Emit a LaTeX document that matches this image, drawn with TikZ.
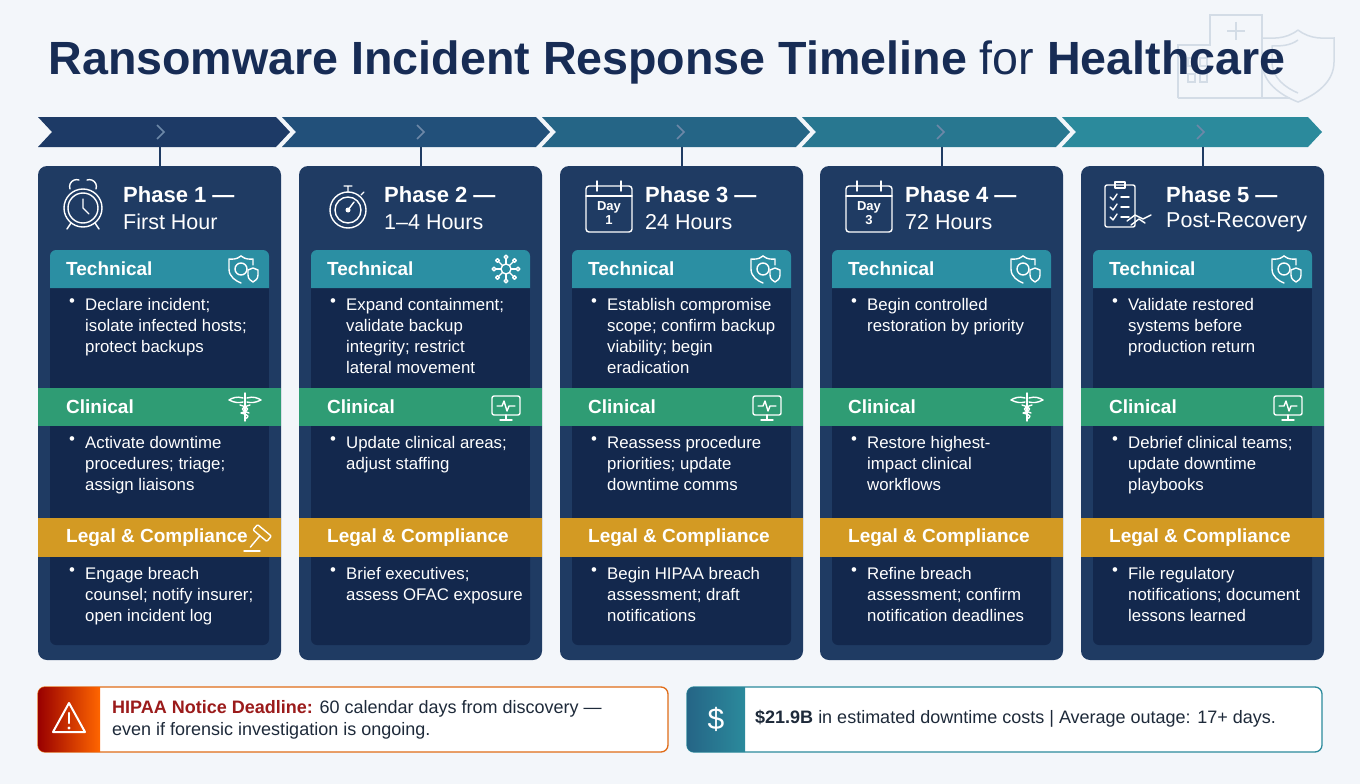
\documentclass[tikz,border=0pt]{standalone}
\usepackage{fontspec}
\setmainfont{Liberation Sans}
\usetikzlibrary{positioning}
\definecolor{pagebg}{HTML}{F3F6FA}
\definecolor{titleblue}{HTML}{172C55}
\definecolor{cardblue}{HTML}{1F3B63}
\definecolor{bodyblue}{HTML}{13284D}
\definecolor{techteal}{HTML}{2B8FA3}
\definecolor{clingreen}{HTML}{2F9C74}
\definecolor{legalgold}{HTML}{D39A23}
\definecolor{chevA}{HTML}{1D3A66}
\definecolor{chevB}{HTML}{22507A}
\definecolor{chevC}{HTML}{256586}
\definecolor{chevD}{HTML}{287790}
\definecolor{chevE}{HTML}{2B8A9C}
\definecolor{markgray}{HTML}{6D88A8}
\definecolor{alertred}{HTML}{9B1B1B}
\definecolor{inkdark}{HTML}{1E2A3A}
\definecolor{faintline}{HTML}{D3DCE6}

\tikzset{
  bandlabel/.style={font=\bfseries\fontsize{19}{22}\selectfont, text=white, anchor=west, inner sep=0pt},
  bullettext/.style={font=\fontsize{16.8}{21}\selectfont, text=white, anchor=north west, align=left, inner sep=0pt},
  phasehead/.style={font=\bfseries\fontsize{22}{26}\selectfont, text=white, anchor=west, inner sep=0pt},
  phasesub/.style={font=\fontsize{21.5}{26}\selectfont, text=white, anchor=west, inner sep=0pt},
  iconline/.style={draw=white, line width=1.4pt, line cap=round, line join=round},
}

% band icons, drawn around (0,0)
\newcommand\shieldicon{%
  \draw[iconline] (-4,-13) .. controls (-9,-9) and (-13,-10) .. (-16,-10) -- (-16,0) .. controls (-16,8) and (-9,12) .. (-4,14);
  \draw[iconline] (-4,-13) .. controls (1,-9) and (5,-10) .. (8,-10) -- (8,-4);
  \draw[iconline] (-4,0) circle (6);
  \draw[iconline] (8,-1) -- (3,1) -- (3,6) .. controls (3,10) and (6,12) .. (8,13) .. controls (10,12) and (13,10) .. (13,6) -- (13,1) -- cycle;}
\newcommand\monitoricon{%
  \draw[iconline, rounded corners=2pt] (-14,-11) rectangle (14,8);
  \draw[iconline] (-9,-1) -- (-4,-1) -- (-2,-6) -- (1,4) -- (3,-1) -- (9,-1);
  \draw[iconline] (0,8) -- (0,12) (-6,13) -- (6,13);}
\newcommand\caduceusicon{%
  \draw[iconline] (0,-14) -- (0,14);
  \draw[iconline] (-2,-9) .. controls (-8,-11) and (-13,-9) .. (-16,-7) .. controls (-10,-4) and (-6,-4) .. (-2,-5);
  \draw[iconline] (2,-9) .. controls (8,-11) and (13,-9) .. (16,-7) .. controls (10,-4) and (6,-4) .. (2,-5);
  \draw[iconline] (-5,-2) .. controls (5,1) and (5,3) .. (-4,6) .. controls (5,8) and (4,10) .. (0,12);
  \draw[iconline] (5,-2) .. controls (-5,1) and (-5,3) .. (4,6);}
\newcommand\gavelicon{%
  \begin{scope}[rotate=-40]
    \draw[iconline, rounded corners=1pt] (-9,-10) rectangle (9,-3);
    \draw[iconline] (0,-3) -- (0,12);
  \end{scope}
  \draw[iconline] (-14,13) -- (2,13);}

% one phase card
\newcommand\phasecard[7]{%
  \begin{scope}[shift={(#1,0)}]
    \fill[cardblue, rounded corners=9pt] (0,166) rectangle (243,660);
    \fill[bodyblue] (12,288) rectangle (231,388);
    \fill[techteal] (12,288) [rounded corners=6pt] -- (12,250) -- (231,250) [sharp corners] -- (231,288) -- cycle;
    \fill[clingreen] (0,388) rectangle (243,426);
    \fill[bodyblue] (12,426) rectangle (231,518);
    \fill[legalgold] (0,518) rectangle (243,557);
    \fill[bodyblue] (12,557) [rounded corners=6pt] -- (12,645) -- (231,645) [sharp corners] -- (231,557) -- cycle;
    \coordinate (#2-mark) at (122,147);
    \coordinate (#2-top) at (122,166);
    \draw[cardblue, line width=2pt] (#2-mark) -- (#2-top);
    \node[phasehead] (#2-head) at (85,195) {#3};
    \node[phasesub] (#2-sub) at (85,222) {#4};
    \node[bandlabel] (#2-tech) at (28,269) {Technical};
    \node[bandlabel] (#2-clin) at (28,407) {Clinical};
    \node[bandlabel] (#2-legal) at (28,538) {Legal \& Compliance};
    \node[bullettext] (#2-techdot) at (31,298) {\textbullet};
    \node[bullettext] (#2-techtxt) at (47,298) {#5};
    \node[bullettext] (#2-clindot) at (31,436) {\textbullet};
    \node[bullettext] (#2-clintxt) at (47,436) {#6};
    \node[bullettext] (#2-legaldot) at (31,567) {\textbullet};
    \node[bullettext] (#2-legaltxt) at (47,567) {#7};
  \end{scope}}

\begin{document}
\begin{tikzpicture}[x=1pt, y=-1pt]
  \fill[pagebg] (0,0) rectangle (1360,784);
  \useasboundingbox (0,0) rectangle (1360,784);

  % faint corner art
  \begin{scope}[faintline, line width=1.5pt]
    \draw (1178,98) -- (1178,45) -- (1210,45) -- (1210,15) -- (1262,15) -- (1262,98);
    \draw (1178,98) -- (1290,98);
    \draw (1236,22) -- (1236,40) (1227,31) -- (1245,31);
    \foreach \xx in {1188,1200} \draw (\xx,58) rectangle ++(7,8) (\xx,74) rectangle ++(7,8);
    \draw (1298,30) .. controls (1285,40) and (1272,38) .. (1262,38) -- (1262,62) .. controls (1262,82) and (1280,95) .. (1298,102) .. controls (1316,95) and (1334,82) .. (1334,62) -- (1334,38) .. controls (1324,38) and (1311,40) .. (1298,30);
    \draw (1298,40) .. controls (1290,46) and (1280,46) .. (1272,46) -- (1272,62) .. controls (1272,78) and (1286,88) .. (1298,93);
  \end{scope}

  % title
  \node[font=\fontsize{46.6}{52}\selectfont, text=titleblue, inner sep=0pt] (title) at (667,62)
    {\textbf{Ransomware Incident Response Timeline} for \textbf{Healthcare}};

  % chevron band
  \foreach \L/\T/\c in {38/290/chevA, 282/550/chevB, 542/810/chevC, 802/1070/chevD, 1062/1322/chevE}{
    \fill[\c] (\L,117) -- (\T-14,117) -- (\T,132) -- (\T-14,147) -- (\L,147) -- (\L+14,132) -- cycle;
  }
  \foreach \m in {160,420,680,940,1200}
    \draw[markgray, line width=1.6pt] (\m-3,125) -- (\m+4,132) -- (\m-3,139);

  \phasecard{38}{p1}{Phase 1 —}{First Hour}
    {Declare incident;\\isolate infected hosts;\\protect backups}
    {Activate downtime\\procedures; triage;\\assign liaisons}
    {Engage breach\\counsel; notify insurer;\\open incident log}
  \phasecard{299}{p2}{Phase 2 —}{1–4 Hours}
    {Expand containment;\\validate backup\\integrity; restrict\\lateral movement}
    {Update clinical areas;\\adjust staffing}
    {Brief executives;\\assess OFAC exposure}
  \phasecard{560}{p3}{Phase 3 —}{24 Hours}
    {Establish compromise\\scope; confirm backup\\viability; begin\\eradication}
    {Reassess procedure\\priorities; update\\downtime comms}
    {Begin HIPAA breach\\assessment; draft\\notifications}
  \phasecard{820}{p4}{Phase 4 —}{72 Hours}
    {Begin controlled\\restoration by priority}
    {Restore highest-\\impact clinical\\workflows}
    {Refine breach\\assessment; confirm\\notification deadlines}
  \phasecard{1081}{p5}{Phase 5 —}{Post-Recovery}
    {Validate restored\\systems before\\production return}
    {Debrief clinical teams;\\update downtime\\playbooks}
    {File regulatory\\notifications; document\\lessons learned}

  % header icons
  \begin{scope}[shift={(83,208)}]
    \draw[iconline] (0,0) circle (19);
    \draw[iconline] (0,0) circle (15);
    \draw[iconline] (0,-9) -- (0,0) -- (6,6);
    \draw[iconline] (-13,-19) arc (160:290:7) (13,-19) arc (20:-110:7);
    \draw[iconline] (-12,15) -- (-16,21) (12,15) -- (16,21);
  \end{scope}
  \begin{scope}[shift={(348,210)}]
    \draw[iconline] (0,0) circle (18);
    \draw[iconline] (0,0) circle (13);
    \draw[iconline] (-4,-24) -- (4,-24) (0,-24) -- (0,-18) (13,-15) -- (16,-18);
    \draw[iconline] (0,0) -- (6,-8);
    \fill[white] (0,0) circle (2.5);
  \end{scope}
  \foreach \cx/\dn in {609/1, 869/3}{
    \begin{scope}[shift={(\cx,208)}]
      \draw[iconline, rounded corners=3pt] (-23,-22) rectangle (23,24);
      \draw[iconline] (-23,-12) -- (23,-12);
      \draw[iconline] (-12,-27) -- (-12,-17) (12,-27) -- (12,-17);
      \node[font=\bfseries\fontsize{13}{14}\selectfont, text=white, inner sep=0pt] (day\dn) at (0,-1) {Day};
      \node[font=\bfseries\fontsize{13}{14}\selectfont, text=white, inner sep=0pt, below=2pt of day\dn] (daynum\dn) {\dn};
    \end{scope}
  }
  \begin{scope}[shift={(1125,205)}]
    \draw[iconline, rounded corners=2pt] (-20,-20) rectangle (10,22);
    \draw[iconline] (-10,-23) rectangle (0,-17);
    \foreach \yy in {-8,2,12}{
      \draw[iconline] (-15,\yy) -- (-12,\yy+3) -- (-8,\yy-3);
      \draw[iconline] (-4,\yy) -- (4,\yy);
    }
    \draw[iconline] (2,16) -- (10,10) -- (18,14) -- (26,10);
    \draw[iconline] (6,20) -- (14,14) -- (20,18);
  \end{scope}

  % band icons
  \foreach \ox/\jc in {38/\caduceusicon, 299/\monitoricon, 560/\monitoricon, 820/\caduceusicon, 1081/\monitoricon}{
    \begin{scope}[shift={(\ox+207,407)}] \jc \end{scope}
  }
  \foreach \ox in {38,560,820,1081}{
    \begin{scope}[shift={(\ox+207,269)}] \shieldicon \end{scope}
  }
  \begin{scope}[shift={(299+207,269)}]
    \draw[iconline] (0,0) circle (5);
    \foreach \a in {0,45,...,315}{
      \draw[iconline] (\a:5) -- (\a:10);
      \draw[iconline] (\a:12) circle (1.8);}
  \end{scope}
  \begin{scope}[shift={(38+220,538)}] \gavelicon \end{scope}

  % bottom: deadline box
  \draw[draw=legalgold!70!red, line width=1.3pt, fill=white, rounded corners=7pt] (38,687) rectangle (668,752);
  \shade[left color=red!60!black, right color=orange!80!red] (100,687) [rounded corners=7pt] -- (38,687) -- (38,752) [sharp corners] -- (100,752) -- cycle;
  \begin{scope}[shift={(69,719)}]
    \draw[iconline, line width=2pt] (0,-16) -- (16,13) -- (-16,13) -- cycle;
    \draw[iconline, line width=2.4pt] (0,-6) -- (0,4);
    \fill[white] (0,9) circle (1.7);
  \end{scope}
  \node[font=\fontsize{18}{22}\selectfont, text=inkdark, anchor=west, align=left, inner sep=0pt] (deadline) at (112,720)
    {\textcolor{alertred}{\textbf{HIPAA Notice Deadline:}} 60 calendar days from discovery —\\even if forensic investigation is ongoing.};

  % bottom: cost box
  \draw[draw=chevE, line width=1.3pt, fill=white, rounded corners=7pt] (687,687) rectangle (1322,752);
  \shade[left color=chevC, right color=chevE] (745,687) [rounded corners=7pt] -- (687,687) -- (687,752) [sharp corners] -- (745,752) -- cycle;
  \node[font=\fontsize{30}{34}\selectfont, text=white, inner sep=0pt] (dollar) at (716,719) {\$};
  \node[font=\fontsize{18}{22}\selectfont, text=inkdark, anchor=west, inner sep=0pt] (cost) at (755,719)
    {\textbf{\$21.9B} in estimated downtime costs | Average outage: 17+ days.};
\end{tikzpicture}
\end{document}
